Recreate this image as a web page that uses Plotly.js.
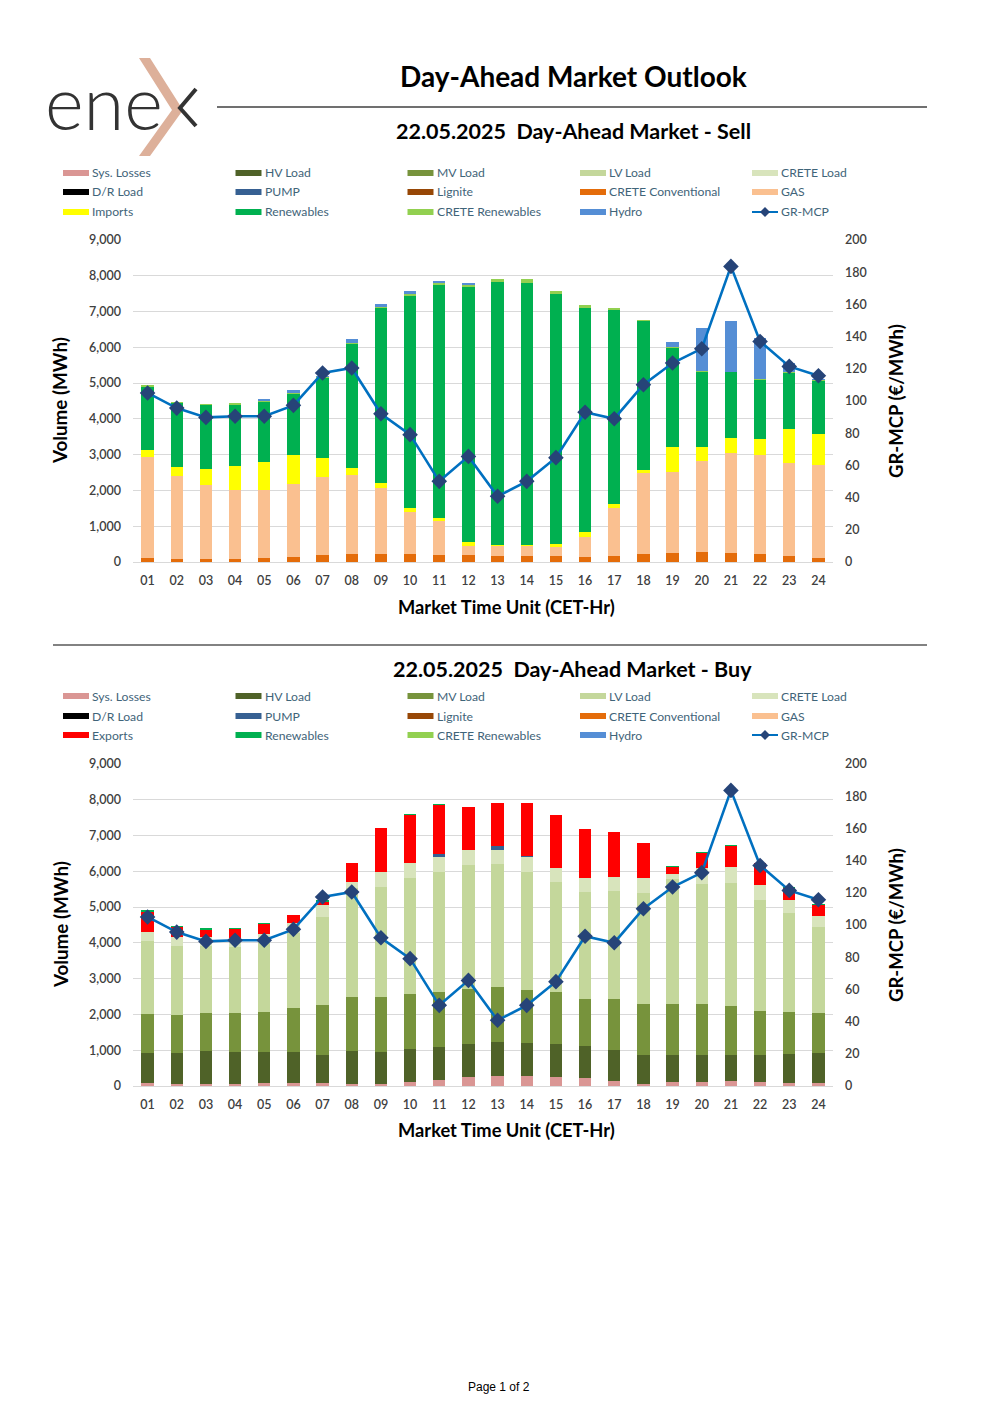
<!DOCTYPE html>
<html>
<head>
<meta charset="utf-8">
<script src="https://cdn.plot.ly/plotly-3.0.1.min.js"></script>
<style>
html,body{margin:0;padding:0;background:#fff;}
#chart{width:1000px;height:1415px;}
</style>
</head>
<body>
<div id="chart"></div>
<script>
// ---------------- DATA ----------------
const hours = ['01','02','03','04','05','06','07','08','09','10','11','12','13','14','15','16','17','18','19','20','21','22','23','24'];

// GR-MCP (€/MWh)
const grMcp = [105.0,95.6,89.8,90.5,90.5,97.3,117.4,120.5,92.1,79.1,50.1,65.6,40.8,50.1,64.8,93.0,89.0,110.1,123.6,132.5,183.6,137.0,121.5,115.7];

// SELL side (MWh)
const sellCreteConventional = [112,93,93,93,121,140,186,233,233,214,205,186,177,177,158,149,177,224,252,280,261,214,168,121];
const sellGas = [2823,2301,2068,1910,1901,2040,2199,2208,1826,1174,950,261,280,280,271,559,1323,2254,2264,2534,2786,2767,2590,2590];
const sellImports = [195,261,448,671,773,801,513,177,149,131,66,121,27,18,83,121,130,103,708,410,410,457,959,876];
const sellRenewables = [1761,1798,1770,1724,1686,1715,2236,3485,4882,5925,6531,7109,7333,7323,6970,6261,5404,4146,2748,2087,1844,1658,1566,1463];
const sellCreteRenewables = [47,28,37,37,19,19,36,28,38,47,46,65,93,103,93,84,75,46,28,28,19,19,28,46];
const sellHydro = [0,0,0,0,56,83,20,111,93,93,56,66,0,0,0,0,0,0,159,1211,1416,1137,251,14];

// BUY side (MWh)
const buySysLosses = [75,65,65,65,75,75,75,56,65,121,177,252,289,280,261,224,130,65,102,102,130,112,84,84];
const buyHvLoad = [857,867,904,885,875,885,782,932,885,904,913,931,941,922,922,903,867,801,774,755,736,745,820,848];
const buyMvLoad = [1080,1053,1062,1081,1109,1211,1407,1509,1547,1546,1547,1538,1537,1491,1435,1305,1425,1426,1416,1426,1370,1239,1174,1118];
const buyLvLoad = [2041,1928,1891,1845,1957,2096,2451,3033,3065,3252,3354,3456,3438,3298,3075,3000,3028,3112,3483,3355,3448,3103,2767,2394];
const buyCreteLoad = [261,261,233,251,233,280,344,170,411,419,419,419,401,400,391,391,382,419,150,447,429,419,345,298];
const buyPump = [0,0,0,0,0,0,0,0,0,0,65,0,112,28,0,0,0,0,0,0,0,0,0,0];
const buyExports = [559,261,215,261,270,223,93,533,1248,1333,1370,1212,1201,1482,1491,1361,1277,960,203,436,587,606,354,317];
const buyRenewables = [46,37,37,28,28,15,38,0,0,28,28,0,0,0,0,0,0,0,28,19,27,21,18,28];

const yTicksLeft = [0,1000,2000,3000,4000,5000,6000,7000,8000,9000];
const yTicksRight = [0,20,40,60,80,100,120,140,160,180,200];

const legendNames = [
  ['Sys. Losses','HV Load','MV Load','LV Load','CRETE Load'],
  ['D/R Load','PUMP','Lignite','CRETE Conventional','GAS'],
  ['Imports','Renewables','CRETE Renewables','Hydro','GR-MCP']
];

// ---------------- STYLE ----------------
const C = {
  'Sys. Losses':'#DA9694','HV Load':'#4F6228','MV Load':'#77933C','LV Load':'#C4D79B',
  'CRETE Load':'#D8E4BC','D/R Load':'#000000','PUMP':'#366092','Lignite':'#974706',
  'CRETE Conventional':'#E46C0A','GAS':'#FAC090','Imports':'#FFFF00','Exports':'#FF0000',
  'Renewables':'#00B050','CRETE Renewables':'#92D050','Hydro':'#558ED5'
};
const FONT = 'Lato, "Open Sans", sans-serif';
const W = 1000, H = 1415;
const px = v => v / W;
const py = v => 1 - v / H;

function bar(name, y, xa, ya) {
  return {type:'bar', name, x:hours, y, xaxis:xa, yaxis:ya,
    marker:{color:C[name], line:{width:0}}, showlegend:false, hoverinfo:'x+y+name'};
}
function mcp(xa, ya) {
  return {type:'scatter', mode:'lines+markers', name:'GR-MCP', x:hours, y:grMcp, xaxis:xa, yaxis:ya,
    line:{color:'#0070C0', width:2.6}, marker:{symbol:'diamond', size:12, color:'#264478', line:{width:0}},
    showlegend:false};
}

const data = [
  bar('CRETE Conventional', sellCreteConventional, 'x', 'y'),
  bar('GAS', sellGas, 'x', 'y'),
  bar('Imports', sellImports, 'x', 'y'),
  bar('Renewables', sellRenewables, 'x', 'y'),
  bar('CRETE Renewables', sellCreteRenewables, 'x', 'y'),
  bar('Hydro', sellHydro, 'x', 'y'),
  mcp('x', 'y2'),
  bar('Sys. Losses', buySysLosses, 'x2', 'y3'),
  bar('HV Load', buyHvLoad, 'x2', 'y3'),
  bar('MV Load', buyMvLoad, 'x2', 'y3'),
  bar('LV Load', buyLvLoad, 'x2', 'y3'),
  bar('CRETE Load', buyCreteLoad, 'x2', 'y3'),
  bar('PUMP', buyPump, 'x2', 'y3'),
  bar('Exports', buyExports, 'x2', 'y3'),
  bar('Renewables', buyRenewables, 'x2', 'y3'),
  mcp('x2', 'y4')
];

const tickFont = {family:FONT, size:12.5, color:'#404040', weight:600};
function xax(anchor) {
  return {domain:[px(133), px(833)], anchor, type:'category', range:[-0.5,23.5],
    showgrid:false, zeroline:false, showline:false, ticks:'', tickfont:tickFont,
    ticklabelstandoff:9, fixedrange:true};
}
function yl(top, bottom, xa) {
  return {domain:[py(bottom), py(top)], anchor:xa, range:[0,9000], tickvals:yTicksLeft,
    tickformat:',', gridcolor:'#D9D9D9', gridwidth:1, zeroline:true, zerolinecolor:'#D9D9D9',
    zerolinewidth:1, showline:false, ticks:'', tickfont:tickFont, ticklabelstandoff:11, fixedrange:true};
}
function yr(over, xa) {
  return {overlaying:over, anchor:xa, side:'right', range:[0,200], tickvals:yTicksRight,
    showgrid:false, zeroline:false, showline:false, ticks:'', tickfont:tickFont,
    ticklabelstandoff:11, fixedrange:true};
}

const annotations = [];
const shapes = [];
function text(t, x, y, size, opts) {
  annotations.push(Object.assign({text:t, x:px(x), y:py(y), xref:'paper', yref:'paper',
    showarrow:false, xanchor:'center', yanchor:'middle',
    font:{family:FONT, size, color:'#000', weight:700}}, opts||{}));
}

// header
text('Day-Ahead Market Outlook', 573, 76, 28);
shapes.push({type:'line', xref:'paper', yref:'paper', x0:px(217), x1:px(927), y0:py(107), y1:py(107), line:{color:'#404040', width:1.3}});
text('22.05.2025\u00A0\u00A0Day-Ahead Market - Sell', 573, 131, 21.5);
shapes.push({type:'line', xref:'paper', yref:'paper', x0:px(53), x1:px(927), y0:py(645), y1:py(645), line:{color:'#595959', width:1.3}});
text('22.05.2025\u00A0\u00A0Day-Ahead Market - Buy', 572, 669, 21.5);

// logo
annotations.push({text:'ene', x:px(43), y:py(101), xref:'paper', yref:'paper', showarrow:false,
  xanchor:'left', yanchor:'middle', font:{family:FONT, size:74, color:'#333333', weight:300}});
function poly(pts) { return 'M' + pts.map(p => px(p[0]) + ',' + py(p[1])).join(' L') + ' Z'; }
function pline(pts) { return 'M' + pts.map(p => px(p[0]) + ',' + py(p[1])).join(' L'); }
shapes.push({type:'path', xref:'paper', yref:'paper', path:poly([[139,58],[150,58],[183,110],[150,156],[139,156],[172,110]]),
  fillcolor:'#DDB09A', line:{width:0}});
shapes.push({type:'path', xref:'paper', yref:'paper', path:pline([[196,89],[180,108],[196,126]]),
  line:{color:'#333333', width:4}});

// legends
const legCols = [63, 235.5, 407.5, 580, 752];
function legend(rowsY, thirdFirst) {
  legendNames.forEach((row, ri) => {
    row.forEach((nm, ci) => {
      const name = (ri === 2 && ci === 0) ? thirdFirst : nm;
      const x0 = legCols[ci], y = rowsY[ri];
      if (name === 'GR-MCP') {
        shapes.push({type:'line', xref:'paper', yref:'paper', x0:px(x0), x1:px(x0+26), y0:py(y), y1:py(y), line:{color:'#0070C0', width:2}});
        shapes.push({type:'path', xref:'paper', yref:'paper', path:poly([[x0+13,y-5],[x0+18,y],[x0+13,y+5],[x0+8,y]]), fillcolor:'#264478', line:{width:0}});
      } else {
        shapes.push({type:'rect', xref:'paper', yref:'paper', x0:px(x0), x1:px(x0+26), y0:py(y+3), y1:py(y-3), fillcolor:C[name], line:{width:0}});
      }
      annotations.push({text:name, x:px(x0+27), y:py(y), xref:'paper', yref:'paper', showarrow:false,
        xanchor:'left', yanchor:'middle', font:{family:FONT, size:12.2, color:'#3F6479'}});
    });
  });
}
legend([173,192,212], 'Imports');
legend([696,716,735], 'Exports');

// axis titles
[[401,607],[925,1130]].forEach(([yc, xt]) => {
  text('Volume (MWh)', 60, yc, 18.8, {textangle:-90});
  text('GR-MCP (€/MWh)', 896, yc, 18.5, {textangle:-90});
  text('Market Time Unit (CET-Hr)', 506, xt, 18.3);
});

// footer
annotations.push({text:'Page 1 of 2', x:px(499), y:py(1387), xref:'paper', yref:'paper', showarrow:false,
  xanchor:'center', yanchor:'middle', font:{family:'"Liberation Sans", Arial, sans-serif', size:12, color:'#000'}});

const layout = {
  width:W, height:H, margin:{l:0,r:0,t:0,b:0}, paper_bgcolor:'#fff', plot_bgcolor:'rgba(0,0,0,0)',
  barmode:'stack', bargap:0.58, showlegend:false, font:{family:FONT},
  xaxis: xax('y'), yaxis: yl(240, 562, 'x'), yaxis2: yr('y', 'x'),
  xaxis2: xax('y3'), yaxis3: yl(764, 1086, 'x2'), yaxis4: yr('y3', 'x2'),
  annotations, shapes
};
Plotly.newPlot('chart', data, layout, {staticPlot:true, displayModeBar:false});
</script>
</body>
</html>
